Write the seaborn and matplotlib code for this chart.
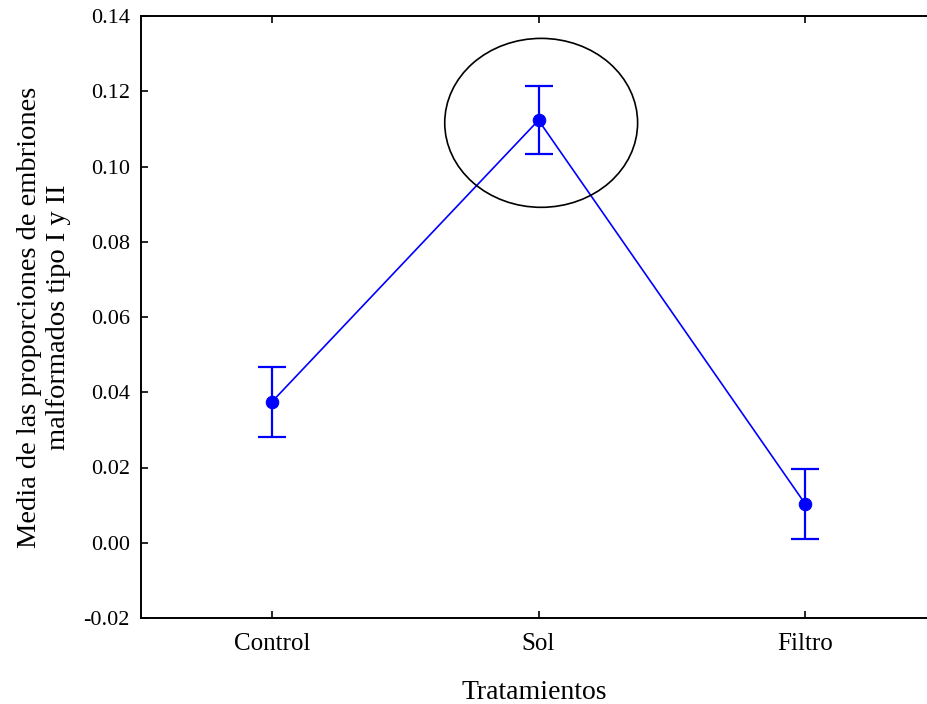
import matplotlib
matplotlib.use("Agg")
import matplotlib.pyplot as plt
from matplotlib.patches import Ellipse
from matplotlib.ticker import FixedLocator, FuncFormatter
import seaborn as sns
import pandas as pd

tratamientos = ["Control", "Sol", "Filtro"]
medias = [0.0374, 0.1123, 0.0103]
error = [0.0092, 0.0091, 0.0092]
y_ticks = [-0.02, 0.00, 0.02, 0.04, 0.06, 0.08, 0.10, 0.12, 0.14]

sns.set_theme(style="white")
plt.rcParams["font.family"] = ["Liberation Serif", "DejaVu Serif"]
plt.rcParams["axes.unicode_minus"] = False

df = pd.DataFrame({"x": range(len(tratamientos)), "media": medias})

fig = plt.figure(figsize=(9.28, 7.04), dpi=100)
ax = fig.add_axes([141 / 928, 86 / 704, 1 - 141 / 928, 602 / 704])

ax.errorbar(df["x"], df["media"], yerr=error, fmt="none", ecolor="#0000ff",
            elinewidth=1.6, capsize=10, capthick=1.6, zorder=2)
sns.lineplot(data=df, x="x", y="media", ax=ax, color="#0000ff", linewidth=1.2,
             marker="o", markersize=9, markeredgecolor="#0000ff", zorder=3)

# highlight around the "Sol" treatment
ax.add_patch(Ellipse((1.01, 0.1116), 0.723, 0.0449, fill=False,
                     edgecolor="black", linewidth=1.2, zorder=4))

ax.set_xlim(-0.49, 2.46)
ax.set_ylim(-0.02, 0.14)
ax.xaxis.set_major_locator(FixedLocator(range(len(tratamientos))))
ax.set_xticklabels(tratamientos)
ax.yaxis.set_major_locator(FixedLocator(y_ticks))
ax.yaxis.set_major_formatter(FuncFormatter(lambda v, p: f"{v:.2f}".replace("−", "-")))

ax.tick_params(axis="x", direction="in", top=True, bottom=True, length=5,
               width=1.2, labelsize=18, pad=11, colors="black")
ax.tick_params(axis="y", direction="in", left=True, right=False, length=5,
               width=1.2, labelsize=16, pad=8, colors="black")

for side in ["left", "top", "bottom"]:
    ax.spines[side].set_visible(True)
    ax.spines[side].set_color("black")
    ax.spines[side].set_linewidth(1.4)
ax.spines["right"].set_visible(False)

ax.set_xlabel("Tratamientos", fontsize=20, labelpad=18, color="black")
ax.set_ylabel("Media de las proporciones de embriones\nmalformados tipo I y II",
              fontsize=20.5, labelpad=9, color="black")

fig.savefig("out.png", dpi=100)
